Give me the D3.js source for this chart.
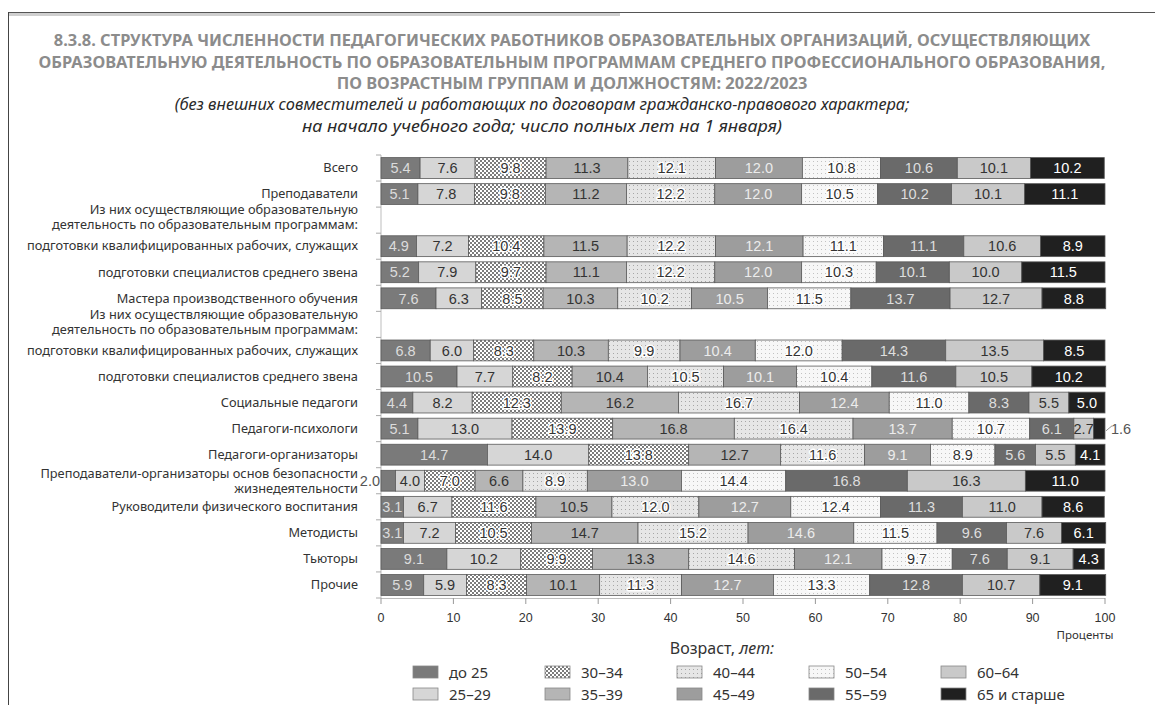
<!DOCTYPE html>
<html><head><meta charset="utf-8">
<script src="https://cdn.jsdelivr.net/npm/d3@7"></script>
<style>
html,body{margin:0;padding:0;background:#fff;}
svg{display:block;}
</style></head>
<body>
<svg id="chart" width="1155" height="705"></svg>
<script>
// ---------- DATA ----------
const titleLines = [
  "8.3.8. СТРУКТУРА ЧИСЛЕННОСТИ ПЕДАГОГИЧЕСКИХ РАБОТНИКОВ ОБРАЗОВАТЕЛЬНЫХ ОРГАНИЗАЦИЙ, ОСУЩЕСТВЛЯЮЩИХ",
  "ОБРАЗОВАТЕЛЬНУЮ ДЕЯТЕЛЬНОСТЬ ПО ОБРАЗОВАТЕЛЬНЫМ ПРОГРАММАМ СРЕДНЕГО ПРОФЕССИОНАЛЬНОГО ОБРАЗОВАНИЯ,",
  "ПО ВОЗРАСТНЫМ ГРУППАМ И ДОЛЖНОСТЯМ: 2022/2023"
];
const subtitleLines = [
  "(без внешних совместителей и работающих по договорам гражданско-правового характера;",
  "на начало учебного года; число полных лет на 1 января)"
];
const categories = [
  "Всего",
  "Преподаватели",
  "Из них осуществляющие образовательную\nдеятельность по образовательным программам:",
  "подготовки квалифицированных рабочих, служащих",
  "подготовки специалистов среднего звена",
  "Мастера производственного обучения",
  "Из них осуществляющие образовательную\nдеятельность по образовательным программам:",
  "подготовки квалифицированных рабочих, служащих",
  "подготовки специалистов среднего звена",
  "Социальные педагоги",
  "Педагоги-психологи",
  "Педагоги-организаторы",
  "Преподаватели-организаторы основ безопасности\nжизнедеятельности",
  "Руководители физического воспитания",
  "Методисты",
  "Тьюторы",
  "Прочие"
];
const ageGroups = ["до 25","25–29","30–34","35–39","40–44","45–49","50–54","55–59","60–64","65 и старше"];
const s_under25 = [5.4,5.1,null,4.9,5.2,7.6,null,6.8,10.5,4.4,5.1,14.7,2.0,3.1,3.1,9.1,5.9];
const s_25_29   = [7.6,7.8,null,7.2,7.9,6.3,null,6.0,7.7,8.2,13.0,14.0,4.0,6.7,7.2,10.2,5.9];
const s_30_34   = [9.8,9.8,null,10.4,9.7,8.5,null,8.3,8.2,12.3,13.9,13.8,7.0,11.6,10.5,9.9,8.3];
const s_35_39   = [11.3,11.2,null,11.5,11.1,10.3,null,10.3,10.4,16.2,16.8,12.7,6.6,10.5,14.7,13.3,10.1];
const s_40_44   = [12.1,12.2,null,12.2,12.2,10.2,null,9.9,10.5,16.7,16.4,11.6,8.9,12.0,15.2,14.6,11.3];
const s_45_49   = [12.0,12.0,null,12.1,12.0,10.5,null,10.4,10.1,12.4,13.7,9.1,13.0,12.7,14.6,12.1,12.7];
const s_50_54   = [10.8,10.5,null,11.1,10.3,11.5,null,12.0,10.4,11.0,10.7,8.9,14.4,12.4,11.5,9.7,13.3];
const s_55_59   = [10.6,10.2,null,11.1,10.1,13.7,null,14.3,11.6,8.3,6.1,5.6,16.8,11.3,9.6,7.6,12.8];
const s_60_64   = [10.1,10.1,null,10.6,10.0,12.7,null,13.5,10.5,5.5,2.7,5.5,16.3,11.0,7.6,9.1,10.7];
const s_65plus  = [10.2,11.1,null,8.9,11.5,8.8,null,8.5,10.2,5.0,1.6,4.1,11.0,8.6,6.1,4.3,9.1];
const seriesValues = [s_under25,s_25_29,s_30_34,s_35_39,s_40_44,s_45_49,s_50_54,s_55_59,s_60_64,s_65plus];
const xTicks = [0,10,20,30,40,50,60,70,80,90,100];
const xAxisTitle = "Проценты";
const legendTitle = "Возраст, ";
const legendTitleItalic = "лет:";

// ---------- STYLE ----------
const fills = ["#7a7a7a","#d6d6d6","url(#checker)","#b5b5b5","url(#dots40)","#9d9d9d","url(#dots50)","#6a6a6a","#c9c9c9","#202020"];
const textColors = ["#dcdcdc","#333","#333","#333","#333","#ececec","#333","#dedede","#333","#fff"];
const halo = [false,false,true,false,true,false,true,false,false,false];

const svg = d3.select("#chart");
const W = 1155, H = 705;
const defs = svg.append("defs");
const chk = defs.append("pattern").attr("id","checker").attr("patternUnits","userSpaceOnUse").attr("width",4).attr("height",4);
chk.append("rect").attr("width",4).attr("height",4).attr("fill","#fff");
chk.append("rect").attr("width",2).attr("height",2).attr("fill","#7c7c7c");
chk.append("rect").attr("x",2).attr("y",2).attr("width",2).attr("height",2).attr("fill","#7c7c7c");
const d40 = defs.append("pattern").attr("id","dots40").attr("patternUnits","userSpaceOnUse").attr("width",4).attr("height",4);
d40.append("rect").attr("width",4).attr("height",4).attr("fill","#e6e6e6");
d40.append("rect").attr("x",1).attr("y",1).attr("width",1).attr("height",1).attr("fill","#a6a6a6");
const d50 = defs.append("pattern").attr("id","dots50").attr("patternUnits","userSpaceOnUse").attr("width",4).attr("height",4);
d50.append("rect").attr("width",4).attr("height",4).attr("fill","#f7f7f7");
d50.append("rect").attr("x",1).attr("y",1).attr("width",1).attr("height",1).attr("fill","#c2c2c2");

// frame
svg.append("line").attr("x1",8).attr("x2",W).attr("y1",12.5).attr("y2",12.5).attr("stroke","#555").attr("stroke-width",1);
svg.append("rect").attr("x",8).attr("y",13).attr("width",612).attr("height",3).attr("fill","#cfcfcf");
svg.append("line").attr("x1",8.5).attr("x2",8.5).attr("y1",12).attr("y2",H).attr("stroke","#444").attr("stroke-width",1);

const headFont = "'Noto Sans', 'Open Sans', sans-serif";
const numFont = "'Liberation Sans Narrow', 'Liberation Sans', Arial, sans-serif";

function condense(gsel, ax, r){
  gsel.attr("transform", `translate(${ax},0) scale(${r},1) translate(${-ax},0)`);
}

// title
const titleG = svg.append("g");
const tY = [46, 68, 89];
const tCx = 572;
titleLines.forEach((t,i)=>{
  titleG.append("text").attr("class","ttl").attr("x",tCx).attr("y",tY[i]).attr("text-anchor","middle")
    .attr("font-family",headFont).attr("font-weight","bold").attr("font-size",16.5)
    .attr("fill","#8c8c8c").text(t);
});
{
  const w = titleG.selectAll("text.ttl").nodes()[1].getComputedTextLength();
  condense(titleG, tCx, 1068/w);
}
// subtitle
const subG = svg.append("g");
const sY = [110, 132];
const sCx = 542;
subtitleLines.forEach((t,i)=>{
  subG.append("text").attr("class","sub").attr("x",sCx).attr("y",sY[i]).attr("text-anchor","middle")
    .attr("font-family",headFont).attr("font-style","italic").attr("font-size",15.5)
    .attr("fill","#2a2a2a").text(t);
});
{
  const nodes = subG.selectAll("text.sub").nodes();
  const w0 = nodes[0].getComputedTextLength();
  const r = 735/w0;
  condense(subG, sCx, r);
  const target1 = 480 / r;
  d3.select(nodes[1]).attr("textLength", target1.toFixed(1)).attr("lengthAdjust","spacingAndGlyphs");
}

// scales
const x = d3.scaleLinear().domain([0,100]).range([381,1105]);
const idx = d3.range(categories.length);
const y = d3.scaleBand().domain(idx).range([155,598]).paddingInner(0.2).paddingOuter(0.1);

// stacked data
const rows = idx.map(i => {
  const o = {i};
  ageGroups.forEach((g,k)=>{ o[g] = seriesValues[k][i]; });
  return o;
});
const dataRows = rows.filter(r => r[ageGroups[0]] !== null);
const stack = d3.stack().keys(ageGroups).value((d,key)=>d[key]||0);
const stacked = stack(dataRows);

// axes lines
const g = svg.append("g");
g.append("line").attr("x1",x(0)).attr("x2",x(0)).attr("y1",155).attr("y2",598).attr("stroke","#bdbdbd");
const bounds = idx.map(i => y(i) - y.step()*y.paddingInner()/2).concat([598]);
g.selectAll("line.ytick").data(bounds).join("line").attr("class","ytick")
  .attr("x1",x(0)-5).attr("x2",x(0)).attr("y1",d=>d).attr("y2",d=>d).attr("stroke","#aaa");
g.append("line").attr("x1",x(0)).attr("x2",x(100)).attr("y1",598.5).attr("y2",598.5).attr("stroke","#bdbdbd");
g.selectAll("line.xtick").data(xTicks).join("line").attr("class","xtick")
  .attr("x1",d=>x(d)).attr("x2",d=>x(d)).attr("y1",598).attr("y2",604).attr("stroke","#999");
g.selectAll("text.xlab").data(xTicks).join("text").attr("class","xlab")
  .attr("x",d=>x(d)).attr("y",622).attr("text-anchor","middle")
  .attr("font-family",numFont).attr("font-size",12.5).attr("fill","#333").text(d=>d);
g.append("text").attr("x",1085).attr("y",639).attr("text-anchor","middle")
  .attr("font-family",headFont).attr("font-size",11.5).attr("fill","#333").text(xAxisTitle);

// row labels (one text element per line)
const labG = svg.append("g");
const lfs = 12.3;
categories.forEach((c,i)=>{
  const lines = c.split("\n");
  const cy = y(i) + y.bandwidth()/2;
  const lh = 15;
  const shift = lines.length > 1 && (s_under25[i] === null) ? -2.5 : 0;
  lines.forEach((ln,k)=>{
    labG.append("text").attr("class","rowlab").attr("text-anchor","end")
      .attr("font-family",headFont).attr("font-size",lfs).attr("fill","#333")
      .attr("x",358).attr("y", cy + (k - (lines.length-1)/2)*lh + 4.3 + shift).text(ln);
  });
});
{
  const w = labG.selectAll("text.rowlab").nodes()[4].getComputedTextLength();
  condense(labG, 358, 331/w);
}

// bars
const bars = svg.append("g");
stacked.forEach((layer,k)=>{
  const lg = bars.append("g");
  lg.selectAll("rect").data(layer).join("rect")
    .attr("x",d=>x(d[0])).attr("y",d=>y(d.data.i))
    .attr("width",d=>x(d[1])-x(d[0])).attr("height",y.bandwidth())
    .attr("fill",fills[k]).attr("stroke","#5a5a5a").attr("stroke-width",0.8);
});
// value labels
const vl = svg.append("g");
const vfs = 14.5;
stacked.forEach((layer,k)=>{
  layer.forEach(d=>{
    const v = d.data[ageGroups[k]];
    const cy = y(d.data.i) + y.bandwidth()/2 + 5.2;
    const txt = v.toFixed(1);
    if (v < 2.5) {
      if (k === 0) {
        vl.append("text").attr("x",x(d[0])-1).attr("y",cy).attr("text-anchor","end")
          .attr("font-family",numFont).attr("font-size",vfs).attr("fill","#555").text(txt);
      } else {
        vl.append("line").attr("x1",x(d[1])+1).attr("y1",cy-3).attr("x2",x(d[1])+7).attr("y2",cy-8)
          .attr("stroke","#777").attr("stroke-width",0.8);
        vl.append("text").attr("x",x(d[1])+6).attr("y",cy).attr("text-anchor","start")
          .attr("font-family",numFont).attr("font-size",vfs).attr("fill","#555").text(txt);
      }
      return;
    }
    const t = vl.append("text").attr("x",(x(d[0])+x(d[1]))/2).attr("y",cy).attr("text-anchor","middle")
      .attr("font-family",numFont).attr("font-size",vfs).attr("fill",textColors[k]).text(txt);
    if (halo[k]) t.attr("stroke","#fff").attr("stroke-width",3).attr("paint-order","stroke").attr("stroke-linejoin","round");
  });
});

// legend
const lgT = svg.append("text").attr("x",722).attr("y",654).attr("text-anchor","middle")
  .attr("font-family",headFont).attr("font-size",16).attr("fill","#333");
lgT.append("tspan").text(legendTitle);
lgT.append("tspan").attr("font-style","italic").text(legendTitleItalic);
const leg = svg.append("g");
ageGroups.forEach((gname,k)=>{
  const col = Math.floor(k/2), row = k%2;
  const lx = 413 + col*132, ly = 666 + row*22;
  leg.append("rect").attr("x",lx).attr("y",ly).attr("width",25).attr("height",12)
    .attr("fill",fills[k]).attr("stroke","#888").attr("stroke-width",0.8);
  leg.append("text").attr("x",lx+36).attr("y",ly+11.5)
    .attr("font-family",headFont).attr("font-size",15).attr("fill","#333").text(gname);
});
</script>
</body></html>
